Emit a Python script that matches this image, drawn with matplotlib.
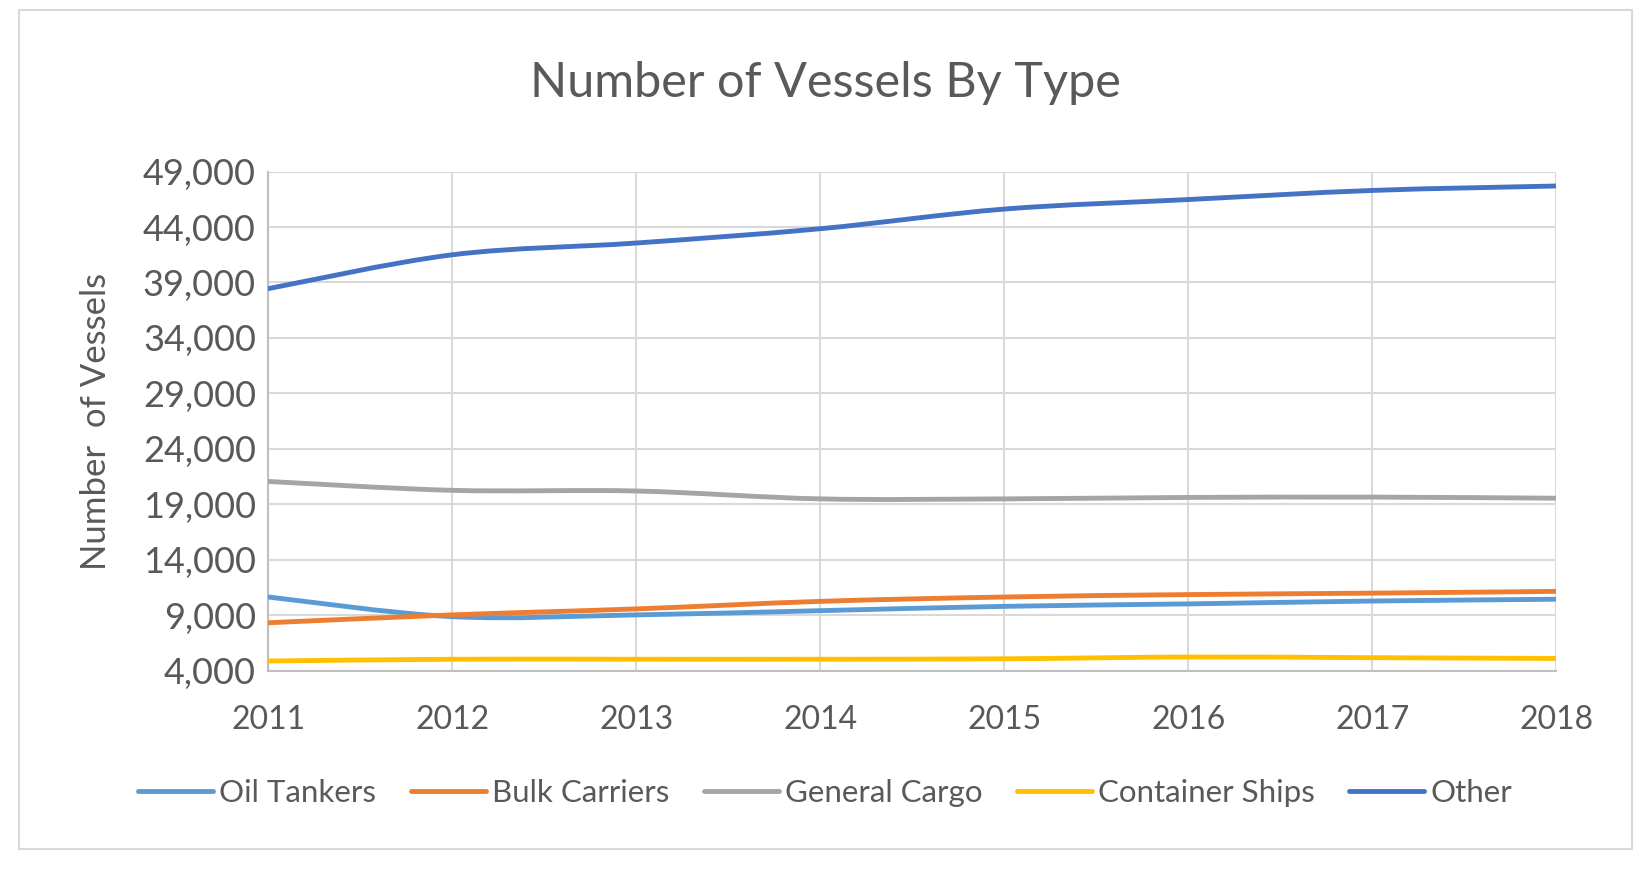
import numpy as np
import matplotlib
matplotlib.use("Agg")
import matplotlib.pyplot as plt
from matplotlib.path import Path
from matplotlib.patches import PathPatch, Rectangle
from matplotlib.lines import Line2D
from matplotlib.ticker import FuncFormatter

years = [2011, 2012, 2013, 2014, 2015, 2016, 2017, 2018]
oil_tankers = [10640, 8870, 9030, 9410, 9800, 10020, 10280, 10440]
bulk_carriers = [8320, 9030, 9570, 10250, 10640, 10860, 10990, 11150]
general_cargo = [21060, 20260, 20200, 19490, 19490, 19620, 19650, 19550]
container_ships = [4870, 5030, 5030, 5030, 5070, 5230, 5170, 5100]
other = [38450, 41500, 42560, 43850, 45620, 46480, 47300, 47700]

series_names = ["Oil Tankers", "Bulk Carriers", "General Cargo", "Container Ships", "Other"]
series_colors = ["#5B9BD5", "#ED7D31", "#A5A5A5", "#FFC000", "#4472C4"]

plt.rcParams["font.family"] = ["Lato", "DejaVu Sans"]
text_color = "#595959"


def smooth_path(x, y):
    # Excel-like smoothed line: cubic Bezier segments through the data points
    x = np.asarray(x, float)
    y = np.asarray(y, float)
    n = len(x)
    verts = [(x[0], y[0])]
    codes = [Path.MOVETO]
    for i in range(n - 1):
        i0 = max(i - 1, 0)
        i3 = min(i + 2, n - 1)
        c1 = (x[i] + (x[i + 1] - x[i0]) / 6, y[i] + (y[i + 1] - y[i0]) / 6)
        c2 = (x[i + 1] - (x[i3] - x[i]) / 6, y[i + 1] - (y[i3] - y[i]) / 6)
        verts += [c1, c2, (x[i + 1], y[i + 1])]
        codes += [Path.CURVE4] * 3
    return Path(verts, codes)


fig = plt.figure(figsize=(16.51, 8.71), dpi=100)
fig.patches.append(Rectangle((19 / 1651, 1 - 849 / 871), 1613 / 1651, 839 / 871,
                             transform=fig.transFigure, fill=False,
                             edgecolor="#d9d9d9", linewidth=1.5))

ax = fig.add_axes([0.1626, 0.230, 0.78, 0.573])

all_series = [oil_tankers, bulk_carriers, general_cargo, container_ships, other]
for vals, name, color in zip(all_series, series_names, series_colors):
    patch = PathPatch(smooth_path(years, vals), facecolor="none", edgecolor=color,
                      linewidth=3.5, capstyle="round", joinstyle="round", zorder=3)
    ax.add_patch(patch)

ax.set_xlim(2011, 2018)
ax.set_ylim(4000, 49000)
ax.set_xticks(years)
ax.set_yticks(np.arange(4000, 49001, 5000))
ax.yaxis.set_major_formatter(FuncFormatter(lambda v, p: f"{int(v):,}"))
ax.grid(True, color="#d9d9d9", linewidth=1.5)
ax.set_axisbelow(True)
ax.tick_params(axis="y", length=0, labelsize=26, colors=text_color, pad=9)
ax.tick_params(axis="x", length=0, labelsize=23, colors=text_color, pad=25)
for side in ["top", "right"]:
    ax.spines[side].set_visible(False)
for side in ["left", "bottom"]:
    ax.spines[side].set_color("#bfbfbf")
    ax.spines[side].set_linewidth(1.5)

ax.set_ylabel("Number  of Vessels", fontsize=25, color=text_color, labelpad=22)
fig.text(825 / 1651, 1 - 83 / 871, "Number of Vessels By Type", fontsize=35,
         color=text_color, ha="center", va="center")

handles = [Line2D([], [], color=c, linewidth=3.5, solid_capstyle="round") for c in series_colors]
fig.legend(handles, series_names, loc="center", bbox_to_anchor=(825 / 1651, 1 - 793 / 871),
           ncol=5, frameon=False, fontsize=22.5, labelcolor=text_color,
           handlelength=2.4, handletextpad=0.2, columnspacing=1.1)

fig.savefig("out.png", dpi=100)
